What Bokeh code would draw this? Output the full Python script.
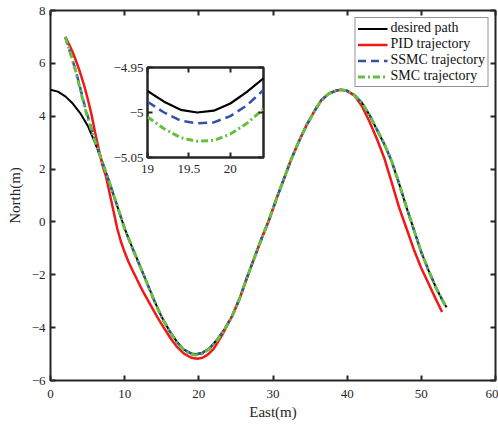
from bokeh.plotting import figure
from bokeh.models import Range1d, LinearAxis, FixedTicker, Legend, LegendItem
from bokeh.embed import file_html
from bokeh.resources import INLINE

# ---------------- data ----------------
desired_x = [0, 1, 2, 3, 4, 5, 6, 7, 8, 9, 10, 11, 12, 13, 14, 15, 16, 17, 18, 19, 19.6, 20.4,
             21.5, 22.5, 23.5, 24.5, 25.5, 26.5, 27.5, 28.5, 29.5, 30.5, 31.5, 32.5, 33.5, 34.5,
             35.5, 36.5, 37.5, 38.5, 39.2, 40, 41, 42, 43, 44, 45, 46, 47, 48, 49, 50, 51, 52, 53, 53.4]
desired_y = [5.0, 4.93, 4.75, 4.48, 4.12, 3.65, 3.0, 2.25, 1.45, 0.6, -0.25, -0.95, -1.62, -2.3,
             -2.98, -3.6, -4.1, -4.52, -4.83, -4.976, -5.0, -4.962, -4.76, -4.44, -4.04, -3.55,
             -2.9, -2.1, -1.35, -0.6, 0.1, 0.9, 1.65, 2.4, 3.05, 3.65, 4.15, 4.6, 4.85, 4.97, 5.0,
             4.96, 4.8, 4.5, 4.05, 3.5, 2.95, 2.3, 1.45, 0.55, -0.3, -1.15, -1.85, -2.5, -3.05, -3.23]

pid_x = [2, 2.5, 3, 3.5, 4, 4.5, 5, 5.5, 6, 6.5, 7, 7.5, 8, 8.5, 9, 9.5, 10, 10.5, 11, 11.7,
         12.5, 13.5, 14.4, 15.5, 16.3, 17.1, 18, 19, 19.8, 20.5, 21.2, 22, 23, 24, 24.5, 25.5,
         26.5, 27.5, 28.5, 29.5, 30.5, 31.5, 32.5, 33.5, 34.5, 35.5, 36.5, 37.5, 38.5, 39.2, 40,
         41, 42, 43, 44, 45, 46, 47, 48, 49, 50, 51, 52, 52.8]
pid_y = [7.0, 6.72, 6.42, 6.05, 5.65, 5.2, 4.68, 4.1, 3.4, 2.75, 2.15, 1.7, 1.05, 0.4, -0.25,
         -0.75, -1.15, -1.5, -1.8, -2.2, -2.65, -3.15, -3.6, -4.1, -4.45, -4.74, -4.98, -5.14,
         -5.18, -5.14, -5.02, -4.8, -4.35, -3.82, -3.56, -2.9, -2.1, -1.35, -0.6, 0.1, 0.9,
         1.65, 2.4, 3.05, 3.65, 4.15, 4.6, 4.85, 4.97, 5.0, 4.95, 4.78, 4.38, 3.8, 3.15, 2.42,
         1.5, 0.55, -0.25, -1.05, -1.75, -2.35, -2.95, -3.41]

ssmc_x = [2, 2.5, 3, 3.5, 4, 4.5, 5, 5.5, 6, 6.5, 7, 7.5, 8, 9, 10, 11, 12, 13, 14, 15, 16, 17,
          18, 19, 19.6, 20.4, 21.5, 22.5, 23.5, 24.5, 25.5, 26.5, 27.5, 28.5, 29.5, 30.5, 31.5,
          32.5, 33.5, 34.5, 35.5, 36.5, 37.5, 38.5, 39.2, 40, 41, 42, 43, 44, 45, 46, 47, 48, 49,
          50, 51, 52, 53, 53.4]
ssmc_y = [7.0, 6.55, 6.1, 5.62, 5.08, 4.52, 4.02, 3.56, 3.1, 2.68, 2.26, 1.86, 1.45, 0.6, -0.26,
          -0.96, -1.63, -2.31, -2.99, -3.61, -4.11, -4.53, -4.84, -4.988, -5.012, -4.975, -4.77,
          -4.45, -4.05, -3.55, -2.9, -2.1, -1.35, -0.6, 0.1, 0.9, 1.65, 2.4, 3.05, 3.65, 4.15,
          4.6, 4.85, 4.97, 5.0, 4.96, 4.8, 4.5, 4.05, 3.5, 2.95, 2.3, 1.45, 0.55, -0.3, -1.15,
          -1.85, -2.5, -3.05, -3.23]

smc_x = [2, 2.5, 3, 3.5, 4, 4.5, 5, 5.5, 6, 6.5, 7, 7.5, 8, 9, 10, 11, 12, 13, 14, 15, 16, 17,
         18, 19, 19.6, 20.4, 21.5, 22.5, 23.5, 24.5, 25.5, 26.5, 27.5, 28.5, 29.5, 30.5, 31.5,
         32.5, 33.5, 34.5, 35.5, 36.5, 37.5, 38.5, 39.2, 40, 41, 42, 43, 44, 45, 46, 47, 48, 49,
         50, 51, 52, 53, 53.4]
smc_y = [7.0, 6.55, 6.1, 5.6, 5.02, 4.45, 3.95, 3.5, 3.05, 2.65, 2.25, 1.86, 1.45, 0.6, -0.26,
         -0.96, -1.63, -2.31, -2.99, -3.61, -4.12, -4.55, -4.86, -5.005, -5.032, -4.996, -4.79,
         -4.47, -4.06, -3.56, -2.9, -2.1, -1.35, -0.6, 0.1, 0.9, 1.65, 2.4, 3.05, 3.65, 4.15,
         4.6, 4.85, 4.97, 5.0, 4.96, 4.8, 4.5, 4.05, 3.5, 2.95, 2.3, 1.45, 0.55, -0.3, -1.15,
         -1.85, -2.5, -3.05, -3.23]

# inset (zoom around the minimum)
inset_x = [19, 19.2, 19.4, 19.6, 19.8, 20.0, 20.2, 20.4]
inset_desired = [-4.976, -4.988, -4.997, -5.0, -4.998, -4.99, -4.977, -4.962]
inset_ssmc = [-4.988, -5.0, -5.009, -5.012, -5.011, -5.004, -4.992, -4.975]
inset_smc = [-5.005, -5.018, -5.028, -5.032, -5.031, -5.024, -5.012, -4.996]

x_ticks = [0, 10, 20, 30, 40, 50, 60]
y_ticks = [-6, -4, -2, 0, 2, 4, 6, 8]
y_tick_labels = ["\u22126", "\u22124", "\u22122", "0", "2", "4", "6", "8"]
inset_x_ticks = [19, 19.5, 20]
inset_y_ticks = [-5.05, -5, -4.95]
inset_y_labels = ["\u22125.05", "\u22125", "\u22124.95"]

legend_labels = ["desired path", "PID trajectory", "SSMC trajectory", "SMC trajectory"]

# ---------------- styles ----------------
FONT = "Liberation Serif"
AX = "#262626"
C_BLACK = "#000000"
C_RED = "#f21818"
C_BLUE = "#3352a6"
C_GREEN = "#67bf3f"


def style_axis(ax, ticks, overrides=None, show=True, size="13px", standoff=6):
    ax.ticker = FixedTicker(ticks=ticks)
    ax.minor_tick_line_color = None
    ax.major_tick_in = 5
    ax.major_tick_out = 0
    ax.major_tick_line_color = AX
    ax.major_tick_line_width = 2
    ax.axis_line_color = None
    ax.major_label_text_font = FONT
    ax.major_label_text_color = AX
    if show:
        ax.major_label_text_font_size = size
        ax.major_label_standoff = standoff
        if overrides:
            ax.major_label_overrides = overrides
    else:
        ax.major_label_text_font_size = "0px"
        ax.major_label_standoff = 0
        ax.major_label_overrides = {t: "" for t in ticks}


# ---------------- main figure ----------------
p = figure(width=498, height=428, output_backend="svg", toolbar_location=None,
           x_range=Range1d(0, 60), y_range=Range1d(-6, 8),
           min_border_left=50, min_border_right=3, min_border_top=10, min_border_bottom=48)
p.grid.visible = False
p.background_fill_color = "white"
p.border_fill_color = "white"
p.outline_line_color = AX
p.outline_line_width = 2
p.outline_line_alpha = 1

style_axis(p.xaxis[0], x_ticks, standoff=9)
style_axis(p.yaxis[0], y_ticks, overrides=dict(zip(y_ticks, y_tick_labels)), standoff=5)
p.xaxis[0].axis_label = "East(m)"
p.yaxis[0].axis_label = "North(m)"
for ax in (p.xaxis[0], p.yaxis[0]):
    ax.axis_label_text_font = FONT
    ax.axis_label_text_font_style = "normal"
    ax.axis_label_text_font_size = "15px"
    ax.axis_label_text_color = AX
p.xaxis[0].axis_label_standoff = 3
p.yaxis[0].axis_label_standoff = 6

top_ax = LinearAxis()
right_ax = LinearAxis()
style_axis(top_ax, x_ticks, show=False)
style_axis(right_ax, y_ticks, show=False)
p.add_layout(top_ax, "above")
p.add_layout(right_ax, "right")

r_des = p.line(desired_x, desired_y, line_color=C_BLACK, line_width=2)
r_pid = p.line(pid_x, pid_y, line_color=C_RED, line_width=2.5)
r_ssmc = p.line(ssmc_x, ssmc_y, line_color=C_BLUE, line_width=2.5, line_dash="8 5")
r_smc = p.line(smc_x, smc_y, line_color=C_GREEN, line_width=3, line_dash="7 3 2 3")

legend = Legend(items=[LegendItem(label=legend_labels[0], renderers=[r_des]),
                       LegendItem(label=legend_labels[1], renderers=[r_pid]),
                       LegendItem(label=legend_labels[2], renderers=[r_ssmc]),
                       LegendItem(label=legend_labels[3], renderers=[r_smc])],
                location="top_right")
legend.margin = 7
legend.padding = 2
legend.spacing = 0
legend.glyph_width = 30
legend.glyph_height = 15
legend.label_height = 15
legend.label_standoff = 3
legend.label_text_font = FONT
legend.label_text_font_size = "14px"
legend.label_text_color = "#111111"
legend.border_line_color = AX
legend.border_line_width = 1.5
legend.background_fill_color = "white"
legend.background_fill_alpha = 1
p.add_layout(legend)

# ---------------- inset figure ----------------
IL, IR, IT, IB = 45, 6, 6, 26
inset = figure(width=IL + 116 + IR, height=IT + 90 + IB, output_backend="svg",
               toolbar_location=None, x_range=Range1d(19, 20.4), y_range=Range1d(-5.05, -4.95),
               min_border_left=IL, min_border_right=IR, min_border_top=IT, min_border_bottom=IB,
               styles={"position": "absolute", "left": "%dpx" % (147 - IL), "top": "%dpx" % (67 - IT)})
inset.grid.visible = False
inset.background_fill_color = "white"
inset.border_fill_alpha = 0
inset.outline_line_color = AX
inset.outline_line_width = 2.5
inset.outline_line_alpha = 1
style_axis(inset.xaxis[0], inset_x_ticks, size="13px", standoff=7)
style_axis(inset.yaxis[0], inset_y_ticks, overrides=dict(zip(inset_y_ticks, inset_y_labels)),
           size="13px", standoff=4)
itop = LinearAxis()
iright = LinearAxis()
style_axis(itop, inset_x_ticks, show=False)
style_axis(iright, inset_y_ticks, show=False)
inset.add_layout(itop, "above")
inset.add_layout(iright, "right")

inset.line(inset_x, inset_desired, line_color=C_BLACK, line_width=2.2)
inset.line(inset_x, inset_ssmc, line_color=C_BLUE, line_width=2.5, line_dash="9 5")
inset.line(inset_x, inset_smc, line_color=C_GREEN, line_width=3, line_dash="7 3 2 3")

open("out.html", "w").write(file_html([p, inset], INLINE))
